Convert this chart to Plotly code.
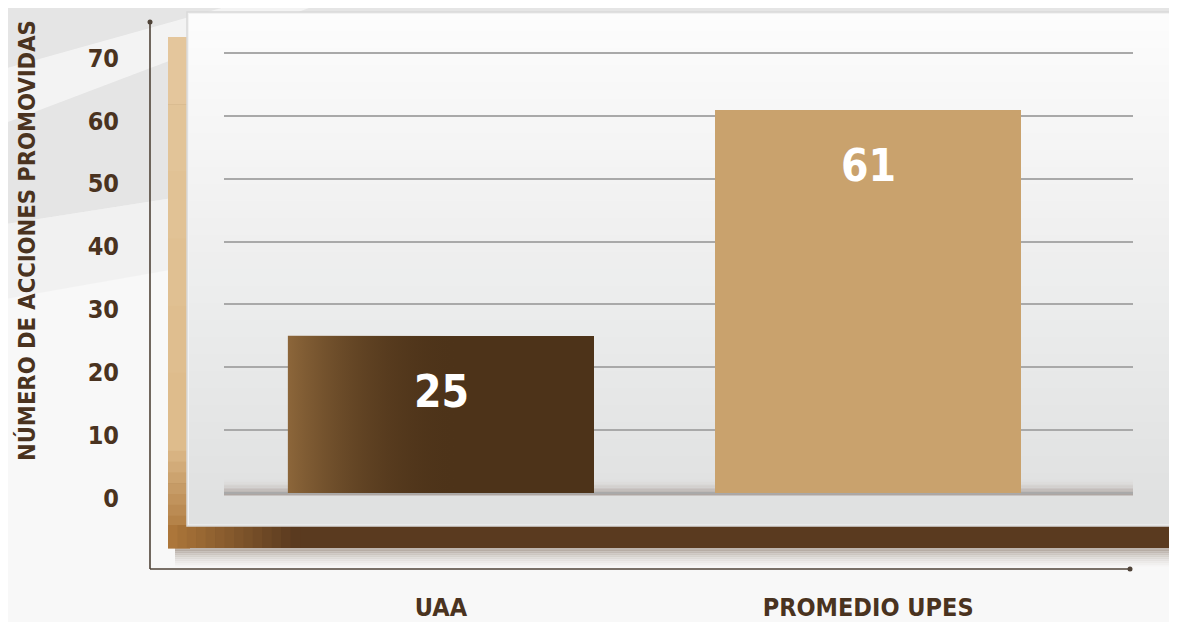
import plotly.graph_objects as go

# ---------------- data ----------------
categories = ["UAA", "PROMEDIO UPES"]
values = [25, 61]
bar_colors = ["#4d3319", "#c9a26d"]
y_tickvals = [0, 10, 20, 30, 40, 50, 60, 70]
y_title = "NÚMERO DE ACCIONES PROMOVIDAS"

# ---------------- geometry helpers (viewport pixels -> paper) ----------------
W, H = 1177, 622
OFF = 8  # page body margin
L, R, T, B = 224, 1133, 40, 500
def px(x):
    return (x - L) / (R - L)
def py(y):
    return (B - y) / (B - T)

FONT = "DejaVu Sans Condensed, Liberation Sans Narrow, sans-serif"
TXT = "#4a3320"

def lerp(c0, c1, t):
    return tuple(c0[i] + (c1[i] - c0[i]) * t for i in range(4))

def bands(x0, x1, y0, y1, c0, c1, n=20, vertical=True, layer="below"):
    out = []
    for i in range(n):
        t = i / (n - 1)
        c = lerp(c0, c1, t)
        col = f"rgba({int(c[0])},{int(c[1])},{int(c[2])},{c[3]:.3f})"
        if vertical:
            ya = y0 + (y1 - y0) * i / n
            yb = y0 + (y1 - y0) * (i + 1) / n + 0.6
            xa, xb = x0, x1
        else:
            xa = x0 + (x1 - x0) * i / n
            xb = x0 + (x1 - x0) * (i + 1) / n + 0.6
            ya, yb = y0, y1
        out.append(dict(type="rect", xref="paper", yref="paper",
                        x0=px(xa), x1=px(xb), y0=py(ya), y1=py(yb),
                        fillcolor=col, line=dict(width=0), layer=layer))
    return out

def poly(points, color):
    path = "M " + " L ".join(f"{px(a)},{py(b)}" for a, b in points) + " Z"
    return dict(type="path", xref="paper", yref="paper", layer="below",
                path=path, fillcolor=color, line=dict(width=0))

shapes = []
# background: gray upper region with a light diagonal streak
shapes.append(poly([(0, 0), (1185, 0), (1185, 40), (0, 225)], "rgba(226,226,226,0.9)"))
shapes.append(poly([(0, 70), (250, 0), (330, 0), (0, 125)], "rgba(246,246,246,0.85)"))
shapes.append(poly([(0, 225), (1185, 40), (1185, 90), (0, 300)], "rgba(236,236,236,0.6)"))

# shadow under frame
shapes += bands(175, 1185, 548, 568, (120, 100, 85, 0.45), (200, 195, 190, 0.0), n=10)
# frame (brown) behind panel
shapes.append(dict(type="rect", xref="paper", yref="paper", layer="below",
                   x0=px(168), x1=px(1185), y0=py(37), y1=py(548),
                   fillcolor="#5a3a1f", line=dict(width=0)))
# left strip gradient (tan -> darker)
shapes += bands(168, 190, 37, 440, (228, 198, 156, 1), (222, 188, 140, 1), n=6)
shapes += bands(168, 190, 440, 548, (222, 188, 140, 1), (170, 115, 55, 1), n=10)
# bottom strip horizontal gradient (left warm -> dark)
shapes += bands(168, 300, 525, 548, (172, 118, 58, 1), (90, 58, 31, 1), n=14, vertical=False)
# panel (white -> light gray)
shapes.append(dict(type="rect", xref="paper", yref="paper", layer="below",
                   x0=px(187), x1=px(1176), y0=py(12), y1=py(526),
                   fillcolor="#f2f2f2", line=dict(color="#d9d9d9", width=1.5)))
shapes += bands(189, 1174, 14, 524, (252, 252, 252, 1), (224, 225, 225, 1), n=30)
# soft shadow strip at base of plot
shapes += bands(L, R, 478, 495, (230, 228, 226, 0.0), (160, 150, 145, 0.75), n=12)

# axis lines with end dots
AX = "#4f4338"
shapes.append(dict(type="line", xref="paper", yref="paper", layer="above",
                   x0=px(150), x1=px(150), y0=py(22), y1=py(569),
                   line=dict(color=AX, width=1.6)))
shapes.append(dict(type="line", xref="paper", yref="paper", layer="above",
                   x0=px(150), x1=px(1130), y0=py(569), y1=py(569),
                   line=dict(color=AX, width=1.6)))
for cx, cy in [(150, 22), (1130, 569)]:
    shapes.append(dict(type="circle", xref="paper", yref="paper", layer="above",
                       x0=px(cx - 2.5), x1=px(cx + 2.5), y0=py(cy - 2.5), y1=py(cy + 2.5),
                       fillcolor=AX, line=dict(width=0)))

x_pos = list(range(len(categories)))
bar_width = 0.717

fig = go.Figure()
fig.add_trace(go.Bar(
    x=x_pos, y=values, width=bar_width,
    marker=dict(color=bar_colors, line=dict(width=0)),
    hoverinfo="skip", showlegend=False,
))
# horizontal light sheen on the dark bar (derived from its data)
x0 = x_pos[0] - bar_width / 2
x1 = x_pos[0] + bar_width * 0.05
fig.add_trace(go.Scatter(
    x=[x0, x1, x1, x0, x0], y=[0, 0, values[0], values[0], 0],
    mode="lines", line=dict(width=0), fill="toself",
    fillgradient=dict(type="horizontal",
                      colorscale=[[0, "rgba(140,102,58,1)"], [1, "rgba(77,51,25,0)"]]),
    hoverinfo="skip", showlegend=False,
))

annotations = []
for xi, v in zip(x_pos, values):
    annotations.append(dict(x=xi, y=v, xref="x", yref="y", text=f"<b>{v}</b>",
                            showarrow=False, yanchor="top", yshift=-28,
                            font=dict(family=FONT, size=44, color="white")))
annotations.append(dict(x=px(27), y=py(241), xref="paper", yref="paper",
                        xanchor="center", yanchor="middle",
                        text=f"<b>{y_title}</b>", textangle=-90, showarrow=False,
                        font=dict(family=FONT, size=23.5, color=TXT)))

fig.update_layout(
    width=W, height=H,
    margin=dict(l=L - OFF, r=W - (R - OFF), t=T - OFF, b=H - (B - OFF), pad=0,
                autoexpand=False),
    paper_bgcolor="#f8f8f8", plot_bgcolor="rgba(0,0,0,0)",
    shapes=shapes, annotations=annotations, bargap=0,
    xaxis=dict(range=[-0.508, 1.62], tickvals=x_pos,
               ticktext=[f"<b>{c}</b>" for c in categories],
               showgrid=False, zeroline=False, showline=False, ticks="",
               ticklabelstandoff=90, automargin=False,
               tickfont=dict(family=FONT, size=25, color=TXT), fixedrange=True),
    yaxis=dict(range=[-1.114, 72.07], tickvals=y_tickvals,
               ticktext=[f"<b>{t}</b>" for t in y_tickvals],
               showgrid=True, gridcolor="#a9a9a9", gridwidth=1.5,
               zeroline=False, showline=False, ticks="",
               ticklabelstandoff=104, ticklabelshift=5, automargin=False,
               tickfont=dict(family=FONT, size=25, color=TXT), fixedrange=True),
)
fig.write_html("out.html")
